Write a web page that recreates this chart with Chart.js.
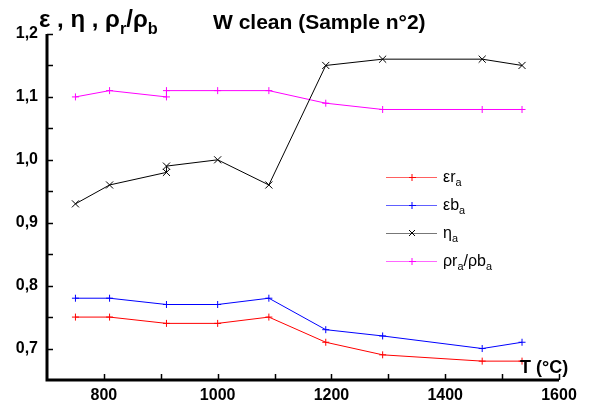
<!DOCTYPE html>
<html lang="en">
  <head>
    <meta charset="UTF-8" />
    <title>W clean (Sample n°2)</title>
    <style>
      html, body { margin: 0; padding: 0; background: #fff; }
      #wrap { width: 589px; height: 406px; position: relative; }
    </style>
  </head>
  <body>
    <div id="wrap"><canvas id="graphic"></canvas></div>
    <script src="https://cdn.jsdelivr.net/npm/chart.js"></script>
    <script>
      // temperatures (°C); the eta / rho series have a repeated point at 910
      const tempShort = [750, 810, 910, 1000, 1090, 1190, 1290, 1465, 1535];
      const tempLong = [750, 810, 910, 910, 1000, 1090, 1190, 1290, 1465, 1535];
      const epsR = [0.75, 0.75, 0.74, 0.74, 0.75, 0.71, 0.69, 0.68, 0.68];
      const epsB = [0.78, 0.78, 0.77, 0.77, 0.78, 0.73, 0.72, 0.70, 0.71];
      const eta = [0.93, 0.96, 0.98, 0.99, 1.00, 0.96, 1.15, 1.16, 1.16, 1.15];
      const rhoRatio = [1.10, 1.11, 1.10, 1.11, 1.11, 1.11, 1.09, 1.08, 1.08, 1.08];
      const xTicks = [800, 1000, 1200, 1400, 1600];
      const yTicks = [0.7, 0.8, 0.9, 1.0, 1.1, 1.2];

      const pts = (xs, ys) => ys.map((y, i) => ({ x: xs[i], y: y }));
      const FONT = "'Liberation Sans', Arial, sans-serif";

      const series = [
        { name: "εr", sub: "a", color: "#ff0000", legend: "#ff6060", style: "cross", data: pts(tempShort, epsR) },
        { name: "εb", sub: "a", color: "#0000ff", legend: "#6060ff", style: "cross", data: pts(tempShort, epsB) },
        { name: "η", sub: "a", color: "#000000", legend: "#777777", style: "crossRot", data: pts(tempLong, eta) },
        { name: "ρr", sub: "a", tail: "/ρb", color: "#ff00ff", legend: "#ff66ff", style: "cross", data: pts(tempLong, rhoRatio) },
      ];

      // write text with subscripts: parts = [[text, isSub], ...]
      function richText(ctx, parts, x, y, size, weight) {
        let cx = x;
        parts.forEach(([t, sub]) => {
          const s = sub ? size * 0.68 : size;
          ctx.font = weight + " " + s + "px " + FONT;
          ctx.fillText(t, cx, sub ? y + size * 0.28 : y);
          cx += ctx.measureText(t).width;
        });
      }

      const decor = {
        id: "decor",
        afterDraw(chart) {
          const ctx = chart.ctx;
          const xs = chart.scales.x, ys = chart.scales.y;
          const L = xs.left, B = ys.bottom;
          ctx.save();
          ctx.strokeStyle = "#000";
          ctx.lineWidth = 1.5;
          // inward ticks, major and minor
          for (let v = 0.7; v <= 1.2001; v += 0.05) {
            const p = Math.round(ys.getPixelForValue(v)) + 0.5;
            ctx.beginPath(); ctx.moveTo(L, p); ctx.lineTo(L + 6, p); ctx.stroke();
          }
          for (let v = 800; v <= 1600; v += 100) {
            const p = Math.round(xs.getPixelForValue(v)) + 0.5;
            ctx.beginPath(); ctx.moveTo(p, B); ctx.lineTo(p, B - 6); ctx.stroke();
          }
          // axis lines
          ctx.lineWidth = 3;
          ctx.beginPath();
          ctx.moveTo(L, ys.getPixelForValue(1.2));
          ctx.lineTo(L, B);
          ctx.lineTo(xs.getPixelForValue(1600), B);
          ctx.stroke();

          ctx.fillStyle = "#000";
          ctx.textBaseline = "alphabetic";
          ctx.textAlign = "left";
          // title
          ctx.font = "bold 21px " + FONT;
          ctx.fillText("W clean (Sample n°2)", 213, 29);
          // y axis title
          richText(ctx, [["ε , η , ρ", false], ["r", true], ["/ρ", false], ["b", true]], 39, 27, 24, "bold");
          // x axis title
          ctx.font = "bold 18px " + FONT;
          ctx.fillText("T (°C)", 520, 373);

          // legend
          series.forEach((s, i) => {
            const y = 177 + i * 28;
            ctx.strokeStyle = s.legend;
            ctx.lineWidth = 1;
            ctx.beginPath(); ctx.moveTo(386, y + 0.5); ctx.lineTo(437, y + 0.5); ctx.stroke();
            ctx.strokeStyle = s.color;
            ctx.beginPath();
            if (s.style === "cross") {
              ctx.moveTo(412, y - 3); ctx.lineTo(412, y + 4);
              ctx.moveTo(409, y + 0.5); ctx.lineTo(416, y + 0.5);
            } else {
              ctx.moveTo(409, y - 3); ctx.lineTo(415, y + 3);
              ctx.moveTo(415, y - 3); ctx.lineTo(409, y + 3);
            }
            ctx.stroke();
            ctx.fillStyle = "#000";
            const parts = [[s.name, false], [s.sub, true]];
            if (s.tail) parts.push([s.tail, false], [s.sub, true]);
            richText(ctx, parts, 443, y + 5, 16, "normal");
          });
          ctx.restore();
        },
      };

      const tickFont = { family: FONT, size: 16, weight: "bold" };

      new Chart(document.getElementById("graphic"), {
        type: "scatter",
        data: {
          datasets: series.map((s) => ({
            label: s.name,
            data: s.data,
            showLine: true,
            borderColor: s.color,
            backgroundColor: s.color,
            borderWidth: 1,
            pointStyle: s.style,
            pointRadius: s.style === "cross" ? 3.5 : 5,
            pointBorderWidth: 1,
            pointBorderColor: s.color,
            tension: 0,
          })),
        },
        options: {
          responsive: true,
          maintainAspectRatio: false,
          animation: false,
          layout: { padding: { left: 0, right: 30, top: 34, bottom: 0 } },
          plugins: { legend: { display: false }, tooltip: { enabled: false } },
          scales: {
            x: {
              type: "linear",
              min: 700,
              max: 1600,
              grid: { display: false, drawTicks: false },
              border: { display: false },
              afterBuildTicks: (sc) => { sc.ticks = xTicks.map((v) => ({ value: v })); },
              afterFit: (sc) => { sc.height = 26; },
              ticks: { color: "#000", font: tickFont, padding: 6, maxRotation: 0, callback: (v) => String(v) },
            },
            y: {
              type: "linear",
              min: 0.65,
              max: 1.2,
              grid: { display: false, drawTicks: false },
              border: { display: false },
              afterBuildTicks: (sc) => { sc.ticks = yTicks.map((v) => ({ value: v })); },
              afterFit: (sc) => { sc.width = 47; },
              ticks: { color: "#000", font: tickFont, padding: 9, callback: (v) => v.toFixed(1).replace(".", ",") },
            },
          },
        },
        plugins: [decor],
      });
    </script>
  </body>
</html>
